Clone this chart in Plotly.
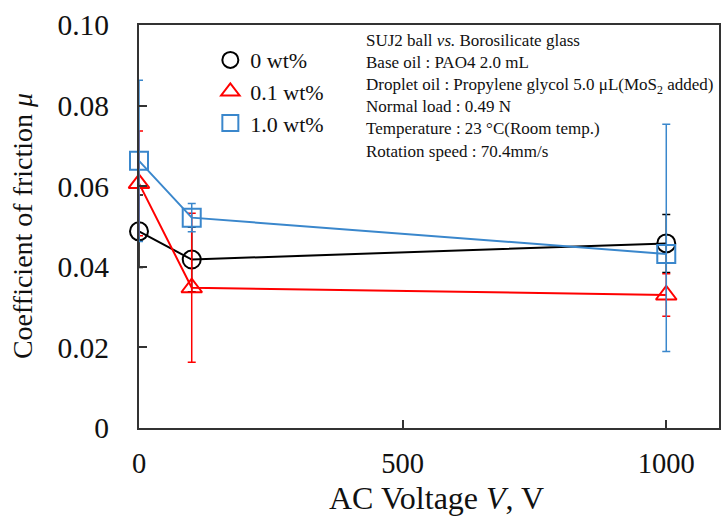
import plotly.graph_objects as go

voltage = [0, 100, 1000]
mu_0 = [0.0488, 0.0418, 0.0458]
err_0 = [0.009, 0.008, 0.0072]
mu_01 = [0.0607, 0.0348, 0.0330]
err_01 = [0.013, 0.0185, 0.0053]
mu_10 = [0.0663, 0.0522, 0.0432]
err_10_plus = [0.020, 0.0035, 0.0322]
err_10_minus = [0.020, 0.0035, 0.0242]
labels = ["0 wt%", "0.1 wt%", "1.0 wt%"]
colors = ["#000000", "#FF0000", "#3A87CC"]
symbols = ["circle-open", "triangle-up-open", "square-open"]
y_ticks = [0, 0.02, 0.04, 0.06, 0.08, 0.10]
y_ticktext = ["0", "0.02", "0.04", "0.06", "0.08", "0.10"]
x_ticks = [0, 500, 1000]
x_title = "AC Voltage <i>V</i>, V"
y_title = "Coefficient of friction <i>μ</i>"
info_lines = [
    "SUJ2 ball <i>vs.</i> Borosilicate glass",
    "Base oil : PAO4 2.0 mL",
    "Droplet oil : Propylene glycol 5.0 μL(MoS<sub>2</sub> added)",
    "Normal load : 0.49 N",
    "Temperature : 23 °C(Room temp.)",
    "Rotation speed : 70.4mm/s",
]

series = [
    (mu_0, dict(type="data", array=err_0)),
    (mu_01, dict(type="data", array=err_01)),
    (mu_10, dict(type="data", array=err_10_plus, arrayminus=err_10_minus, symmetric=False)),
]

fig = go.Figure()
for i, (vals, err) in enumerate(series):
    err.update(color=colors[i], thickness=1.5, width=4, visible=True)
    fig.add_trace(go.Scatter(
        x=voltage, y=vals, mode="lines+markers", showlegend=False,
        line=dict(color=colors[i], width=2),
        marker=dict(symbol=symbols[i], size=18, color=colors[i], line=dict(width=2, color=colors[i])),
        error_y=err, cliponaxis=False,
    ))
for i in range(3):
    fig.add_trace(go.Scatter(
        x=[None], y=[None], mode="markers", name=labels[i],
        marker=dict(symbol=symbols[i], size=18, color=colors[i], line=dict(width=2, color=colors[i])),
    ))

font_family = "Liberation Serif"
txt = "#111111"
fig.update_layout(
    width=722, height=518,
    margin=dict(l=139, r=1, t=25, b=90),
    paper_bgcolor="white", plot_bgcolor="white",
    font=dict(family=font_family, color=txt),
    showlegend=True,
    legend=dict(x=0.123, y=0.965, xanchor="left", yanchor="top",
                font=dict(size=22, family=font_family, color=txt),
                bgcolor="rgba(0,0,0,0)", itemsizing="trace", tracegroupgap=0),
    xaxis=dict(range=[0, 1100], tickvals=x_ticks, ticks="inside", ticklen=8, tickwidth=1.5,
               tickcolor="#333333", showgrid=False, zeroline=False,
               showline=True, linecolor="#333333", linewidth=2, mirror=True,
               tickfont=dict(size=28.5, family=font_family, color=txt),
               ticklabelstandoff=9),
    yaxis=dict(range=[0, 0.10], tickvals=y_ticks, ticktext=y_ticktext, ticks="inside", ticklen=8,
               tickwidth=1.5, tickcolor="#333333", showgrid=False, zeroline=False,
               showline=True, linecolor="#333333", linewidth=2, mirror=True,
               tickfont=dict(size=29.5, family=font_family, color=txt),
               ticklabelstandoff=22),
)
fig.add_annotation(
    xref="paper", yref="paper", x=0.513, y=-0.174, xanchor="center", yanchor="middle",
    text=x_title, showarrow=False, font=dict(size=32, family=font_family, color=txt),
)
fig.add_annotation(
    xref="paper", yref="paper", x=-0.2007, y=0.50, xanchor="center", yanchor="middle",
    text=y_title, showarrow=False, textangle=-90, font=dict(size=28, family=font_family, color=txt),
)
fig.add_annotation(
    xref="paper", yref="paper", x=0.388, y=0.99, xanchor="left", yanchor="top",
    text="<br>".join(info_lines), showarrow=False, align="left",
    font=dict(size=17, family=font_family, color=txt),
)
fig.write_html("out.html")
